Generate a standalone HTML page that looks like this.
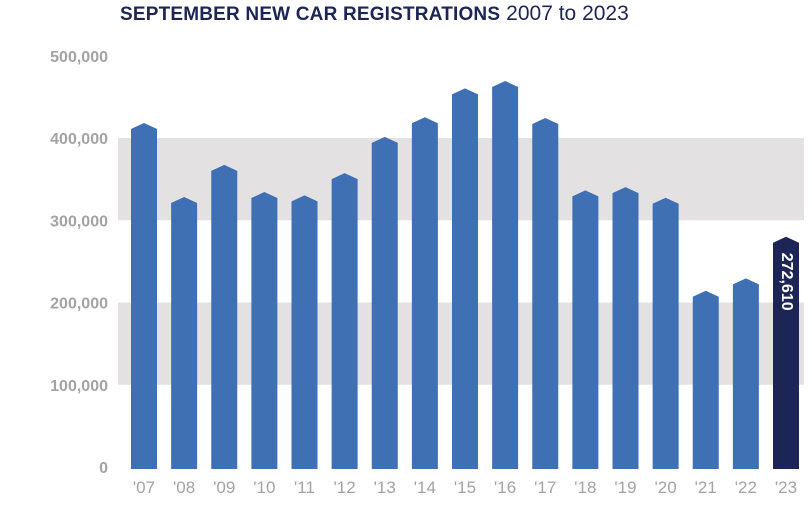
<!DOCTYPE html>
<html><head><meta charset="utf-8"><style>
body{margin:0;background:#fff;width:812px;height:509px;overflow:hidden;font-family:"Liberation Sans",sans-serif}
</style></head><body>
<svg id="chart" width="812" height="509" xmlns="http://www.w3.org/2000/svg">
<text x="120" y="20" font-size="19" fill="#1c2556" font-family="Liberation Sans, sans-serif"><tspan font-weight="bold" textLength="380">SEPTEMBER NEW CAR REGISTRATIONS</tspan><tspan dx="6" font-size="21" fill="#1c2556">2007 to 2023</tspan></text>
<g id="bands"></g><g id="yaxis"></g><g id="bars"></g><g id="xaxis"></g>
</svg>
<script>
const years = ["'07","'08","'09","'10","'11","'12","'13","'14","'15","'16","'17","'18","'19","'20","'21","'22","'23"];
const values = [411000,321000,360000,327000,323000,350000,394000,418000,453000,462000,417000,329000,333000,320000,207000,222000,272610];
const yTicks = [0,100000,200000,300000,400000,500000];
const yTickLabels = ["0","100,000","200,000","300,000","400,000","500,000"];
const bandRanges = [[100000,200000],[300000,400000]];
const highlightLabel = "272,610";
const NS="http://www.w3.org/2000/svg";
const y0=467, pxPer=82.25/100000;
function y(v){return y0-v*pxPer;}
function x(i){return 131+i*40.125;}
const bw=26;
function mk(tag,attrs,parent){const e=document.createElementNS(NS,tag);for(const k in attrs)e.setAttribute(k,attrs[k]);document.getElementById(parent).appendChild(e);return e;}
bandRanges.forEach(r=>{
  const e=mk('rect',{x:118,y:y(r[1]),width:686,height:y(r[0])-y(r[1]),fill:'#e3e1e2'},'bands');
  
  
});
yTicks.forEach((t,i)=>{
  const e=mk('text',{x:108,y:y(t)+6,'text-anchor':'end','font-size':16,'font-weight':'bold',fill:'#a3a3a3'},'yaxis');
  e.textContent=yTickLabels[i];
  
  
});
values.forEach((v,i)=>{
  const l=x(i), r=l+bw, top=y(v), bot=y(0)+2;
  const last=i===values.length-1;
  const p=mk('path',{d:`M${l},${bot}L${l},${top}L${l+bw/2},${top-6}L${r},${top}L${r},${bot}Z`,fill:last?'#1c2556':'#3f70b4'},'bars');
  
  
  const t=mk('text',{x:l+bw/2,y:bot+24,'text-anchor':'middle','font-size':17,fill:'#a3a3a3'},'xaxis');
  t.textContent=years[i];
  
  
  if(last){
    const cx=l+bw/2, cy=top+10;
    const lt=mk('text',{x:cx,y:cy,'font-size':16,'font-weight':'bold',fill:'#fff',transform:`rotate(90 ${cx} ${cy})`,'dominant-baseline':'middle'},'bars');
    lt.textContent=highlightLabel;
    
    
  }
});
</script>
</body></html>
